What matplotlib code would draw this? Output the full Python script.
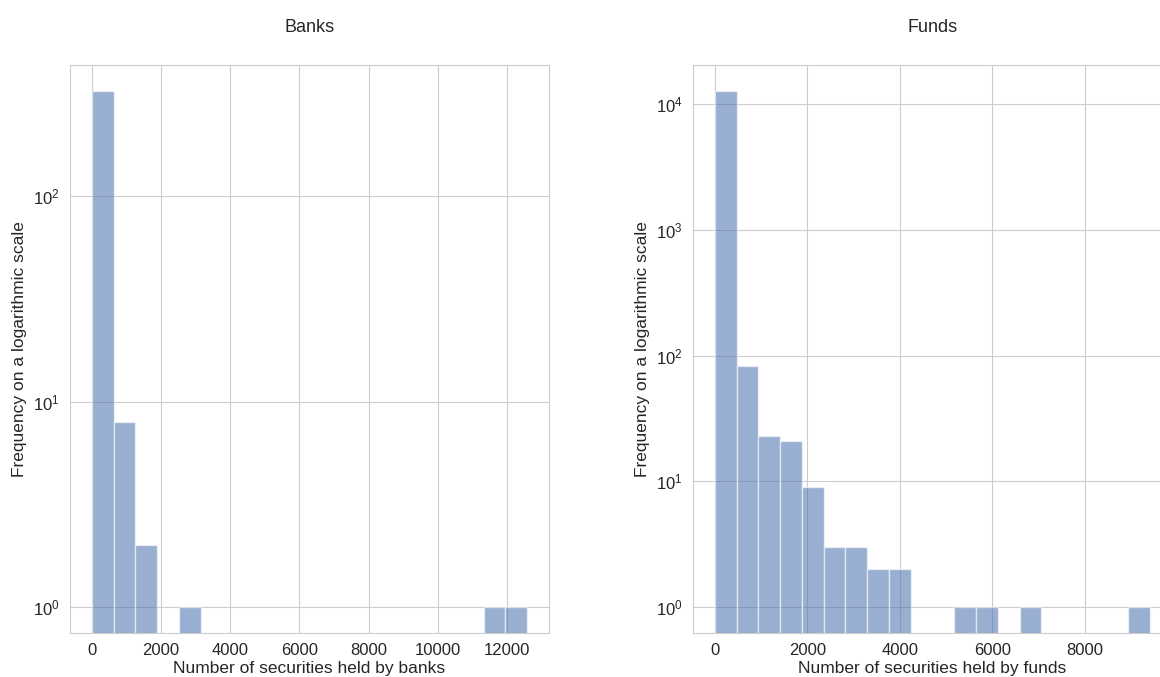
import numpy as np
import matplotlib
matplotlib.use("Agg")
import matplotlib.pyplot as plt
import seaborn as sns

sns.set_style("whitegrid")
plt.rcParams['font.family'] = ['Liberation Sans', 'DejaVu Sans']
plt.rcParams['mathtext.fontset'] = 'custom'
plt.rcParams['mathtext.rm'] = 'Liberation Sans'
plt.rcParams['mathtext.it'] = 'Liberation Sans:italic'
plt.rcParams['mathtext.bf'] = 'Liberation Sans:bold'

# Banks histogram: 20 equal bins from 0 to ~12580
banks_max = 12580
banks_counts = [325, 8, 2, 0, 1, 0, 0, 0, 0, 0, 0, 0, 0, 0, 0, 0, 0, 0, 1, 1]

# Funds histogram: 20 equal bins from 0 to ~9414
funds_max = 9414
funds_counts = [12700, 82, 23, 21, 9, 3, 3, 2, 2, 0, 0, 1, 1, 0, 1, 0, 0, 0, 0, 1]

titles = ["Banks", "Funds"]
xlabels = ["Number of securities held by banks", "Number of securities held by funds"]
ylabel = "Frequency on a logarithmic scale"

W, H = 1160, 677
fig = plt.figure(figsize=(W / 100, H / 100), dpi=100)
ax1 = fig.add_axes([70 / W, (H - 633) / H, 479 / W, 568 / H])
ax2 = fig.add_axes([693 / W, (H - 633) / H, 479 / W, 568 / H])

for ax, mx, counts, title, xl in [(ax1, banks_max, banks_counts, titles[0], xlabels[0]),
                                   (ax2, funds_max, funds_counts, titles[1], xlabels[1])]:
    edges = np.linspace(0, mx, len(counts) + 1)
    ax.set_yscale('log')
    ax.bar(edges[:-1], counts, width=np.diff(edges), align='edge',
           color='#4c72b0', alpha=0.57, edgecolor='white', linewidth=1)
    ax.set_title(title, fontsize=13, pad=24, color='#262626')
    ax.set_xlabel(xl, fontsize=12.5, labelpad=2, color='#262626')
    ax.set_ylabel(ylabel, fontsize=12.5, color='#262626')
    ax.tick_params(labelsize=12, colors='#262626', pad=4)
    ax.grid(True, color='#cccccc', linewidth=0.8)
    ax.set_axisbelow(True)
    for s in ax.spines.values():
        s.set_color('#cccccc')

fig.savefig("out.png", dpi=100)
